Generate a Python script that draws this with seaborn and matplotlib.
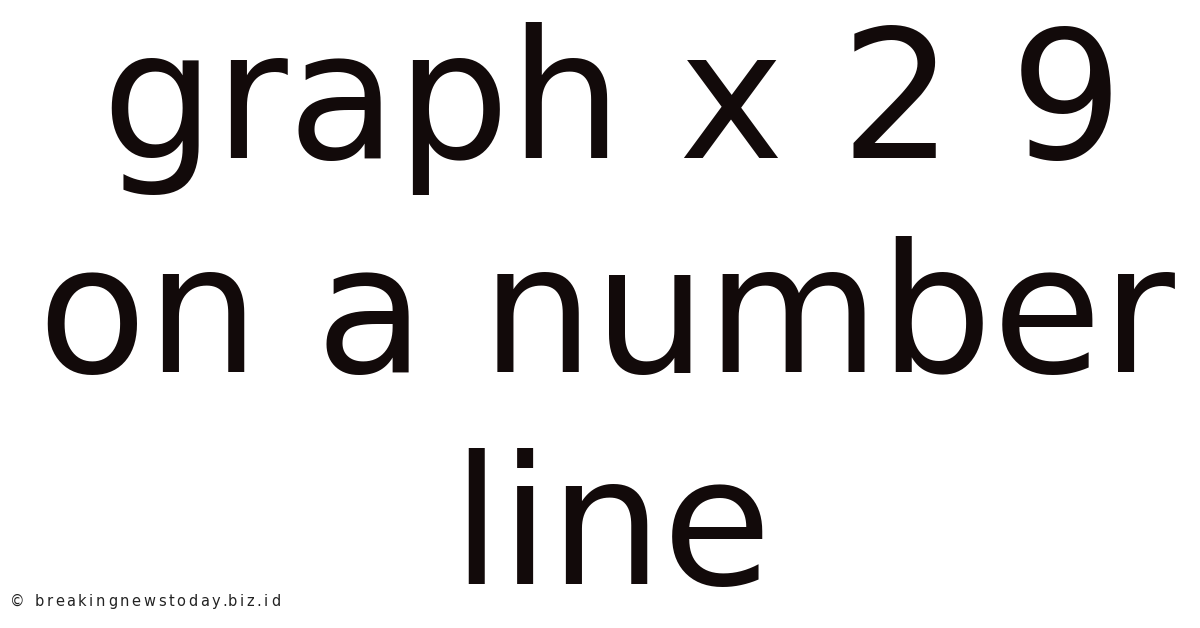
import matplotlib
matplotlib.use("Agg")
import matplotlib.pyplot as plt
from matplotlib.font_manager import FontProperties
import seaborn as sns

title_lines = ["graph x 2 9", "on a number", "line"]
line_centers_px = [613, 606, 612]
baselines_px = [158, 372, 584]
watermark = "\u00a9 breakingnewstoday.biz.id"

sns.set_style("white")
plt.rcParams['font.family'] = ['DejaVu Sans']

W, H = 1200, 628
fig = plt.figure(figsize=(W / 100, H / 100), dpi=100)
fig.patch.set_facecolor("white")

text_color = "#120a0a"
for line, cx, base in zip(title_lines, line_centers_px, baselines_px):
    fig.text(cx / W, 1 - base / H, line, ha="center", va="baseline",
             fontsize=128, color=text_color)

# small watermark, widely tracked letters
renderer = fig.canvas.get_renderer()
prop = FontProperties(family="DejaVu Sans", size=10.5)
bar_w = renderer.get_text_width_height_descent("|", prop, ismath=False)[0]
tracking = 2.6
x0 = 10
for i, ch in enumerate(watermark):
    prefix_w = renderer.get_text_width_height_descent(
        watermark[:i] + "|", prop, ismath=False)[0] - bar_w
    x = x0 + prefix_w + i * tracking
    fig.text(x / W, 1 - 606 / H, ch, ha="left", va="baseline",
             fontproperties=prop, color="#222222")

fig.savefig("out.png", dpi=100, facecolor="white")
